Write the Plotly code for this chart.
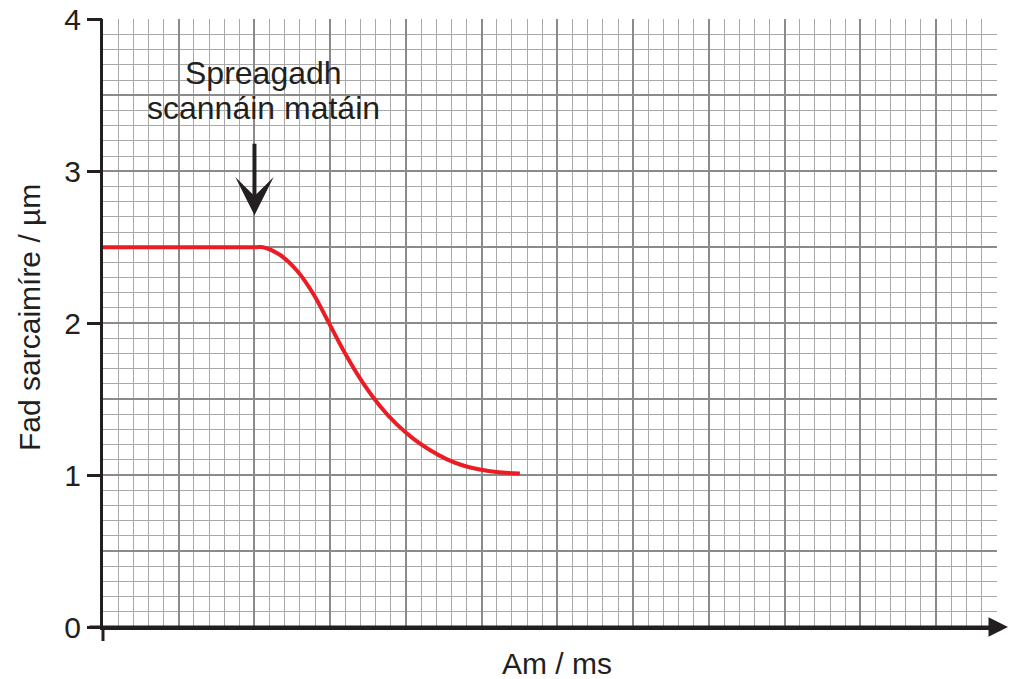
import plotly.graph_objects as go

# ---- data ----
time_vals = [0.0, 1.0, 1.057, 1.167, 1.277, 1.387, 1.497, 1.607, 1.717, 1.828, 1.938, 2.048, 2.158, 2.268, 2.378, 2.488, 2.598, 2.752]
length_vals = [2.5, 2.5, 2.50, 2.45, 2.35, 2.195, 1.99, 1.785, 1.605, 1.455, 1.335, 1.24, 1.165, 1.105, 1.063, 1.037, 1.02, 1.01]
y_tick_vals = [0, 1, 2, 3, 4]
y_tick_text = ["0", "1", "2", "3", "4"]
stim_time = 1.0
stim_arrow_top = 3.19
stim_arrow_tip = 2.71
stim_label_lines = ["Spreagadh", "scannáin matáin"]
x_title = "Am / ms"
y_title = "Fad sarcaimíre / µm"
x_max = 5.9
y_max = 4.0

FONT = "Liberation Sans, Arial, Helvetica, sans-serif"
INK = "#231f20"
MAJOR = "#8a8a8a"
MINOR = "#a8a8a8"

W, H = 1010, 679
ML, MR, MT, MB = 103, 13, 19, 52
PW = W - ML - MR  # plot width in px
PH = H - MT - MB  # plot height in px

fig = go.Figure()

fig.add_trace(go.Scatter(
    x=time_vals, y=length_vals, mode="lines",
    line=dict(color="#ec1c24", width=4, shape="spline", smoothing=1.0),
    showlegend=False, hoverinfo="skip",
))
# invisible trace to activate the labelled overlay axis
fig.add_trace(go.Scatter(x=[None], y=[None], yaxis="y2", showlegend=False, hoverinfo="skip"))

fig.update_layout(
    width=W, height=H,
    margin=dict(l=ML, r=MR, t=MT, b=MB, autoexpand=False),
    paper_bgcolor="white", plot_bgcolor="white",
    font=dict(family=FONT, size=30, color=INK),
    xaxis=dict(
        range=[0, x_max + 0.002], showgrid=True, tick0=0, dtick=0.5,
        gridcolor=MAJOR, gridwidth=1.6,
        minor=dict(tick0=0, dtick=0.1, showgrid=True, gridcolor=MINOR, gridwidth=1),
        ticks="", showticklabels=False, zeroline=False,
        showline=True, linecolor=INK, linewidth=3,
        automargin=False, fixedrange=True,
    ),
    yaxis=dict(
        range=[0, y_max + 0.002], showgrid=True, tick0=0, dtick=0.5,
        gridcolor=MAJOR, gridwidth=1.6,
        minor=dict(tick0=0, dtick=0.1, showgrid=True, gridcolor=MINOR, gridwidth=1),
        ticks="", showticklabels=False, zeroline=False,
        showline=True, linecolor=INK, linewidth=3,
        automargin=False, fixedrange=True,
    ),
    yaxis2=dict(
        overlaying="y", side="left", anchor="x",
        range=[0, y_max + 0.002], tickvals=y_tick_vals, ticktext=y_tick_text,
        ticks="outside", ticklen=15, tickwidth=3, tickcolor=INK,
        tickfont=dict(size=30, color=INK), ticklabeloverflow="allow",
        showgrid=False, zeroline=False, showline=False,
        automargin=False, fixedrange=True,
    ),
)

# axis titles
fig.add_annotation(
    xref="paper", yref="paper", x=(557 - 103) / PW, y=-(663 - 627) / PH,
    text=x_title, showarrow=False, xanchor="center", yanchor="middle",
    font=dict(size=30, color=INK),
)
fig.add_annotation(
    xref="paper", yref="paper", x=(29 - 103) / PW, y=(627 - 318) / PH,
    text=y_title, showarrow=False, textangle=-90, xanchor="center", yanchor="middle",
    font=dict(size=30, color=INK),
)

# x axis arrow extending beyond the grid
fig.add_annotation(
    xref="paper", yref="y", x=(1008 - 103) / PW, y=0,
    axref="pixel", ayref="pixel", ax=-920, ay=0,
    text="", showarrow=True, arrowhead=2, arrowsize=1.3, arrowwidth=3, arrowcolor=INK,
)
# y axis stub below the origin
fig.add_shape(type="line", xref="paper", yref="paper", x0=0, x1=0, y0=0, y1=-14 / PH,
              line=dict(color=INK, width=3))

# stimulus arrow and label
fig.add_annotation(
    x=stim_time, y=stim_arrow_tip, xref="x", yref="y",
    ax=stim_time, ay=stim_arrow_top, axref="x", ayref="y",
    text="", showarrow=True, arrowhead=3, arrowsize=1.6, arrowwidth=4, arrowcolor=INK,
)
fig.add_annotation(
    x=1.062, y=(627 - 73) / 151.8, xref="x", yref="y", text=stim_label_lines[0], showarrow=False,
    font=dict(size=32, color=INK), xanchor="center", yanchor="middle",
)
fig.add_annotation(
    x=1.062, y=(627 - 108) / 151.8, xref="x", yref="y", text=stim_label_lines[1], showarrow=False,
    font=dict(size=32, color=INK), xanchor="center", yanchor="middle",
)

fig.write_html("out.html", config={"displayModeBar": False},
               post_script="document.body.style.margin='0';")
